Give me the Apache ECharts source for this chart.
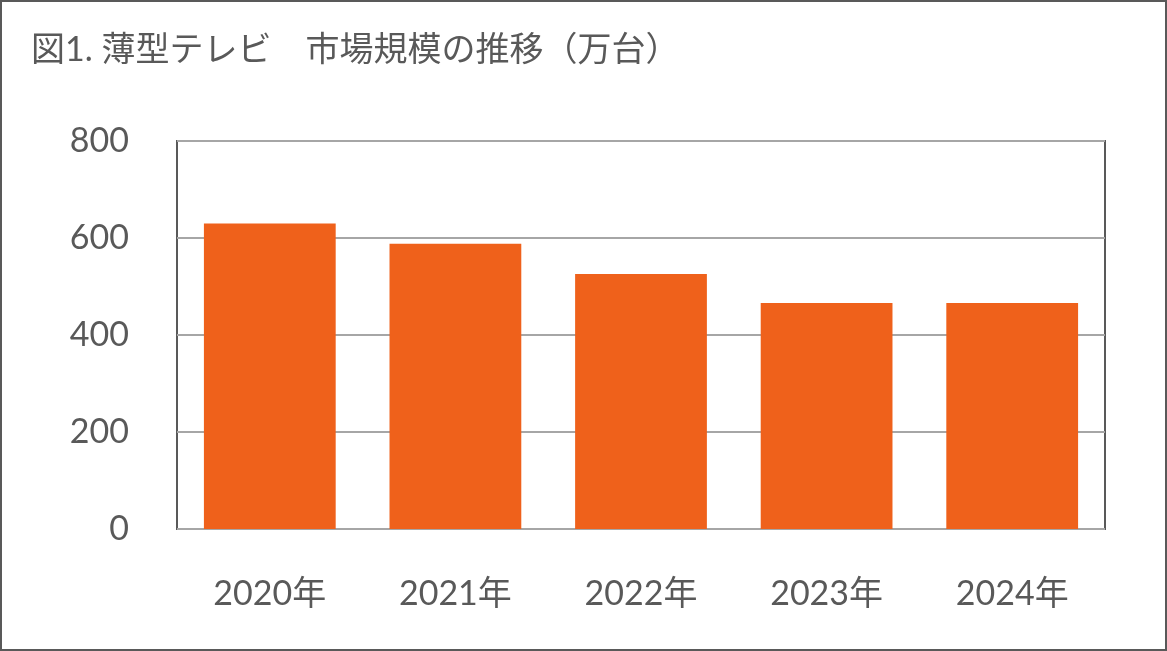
<!DOCTYPE html>
<html><head><meta charset="utf-8">
<script src="https://cdn.jsdelivr.net/npm/echarts@6/dist/echarts.min.js"></script>
<style>html,body{margin:0;padding:0;background:#fff}#c{width:1167px;height:651px;box-sizing:border-box;border:2px solid #595959}</style>
</head><body><div id="c"></div>
<script>
const categories = ['2020年','2021年','2022年','2023年','2024年'];
const values = [630, 588, 526, 466, 466];
const yTicks = [0, 200, 400, 600, 800];
const chart = echarts.init(document.getElementById('c'));
const font = "Lato, 'Noto Sans CJK JP', sans-serif";
chart.setOption({
  animation: false,
  title: {text: '図1. 薄型テレビ　市場規模の推移（万台）', left: 24, top: 26,
    textStyle: {fontSize: 34, fontWeight: 'normal', color: '#595959', fontFamily: font}},
  grid: {left: 175, right: 60, top: 139, bottom: 120, show: true, borderColor: '#595959', borderWidth: 2},
  xAxis: {type: 'category', data: categories,
    axisLine: {show: false}, axisTick: {show: false},
    axisLabel: {fontSize: 34, color: '#595959', margin: 48, fontFamily: font}},
  yAxis: {type: 'value', min: yTicks[0], max: yTicks[yTicks.length-1], interval: 200,
    axisLine: {show: false}, axisTick: {show: false},
    splitLine: {lineStyle: {color: '#a6a6a6', width: 2}},
    axisLabel: {fontSize: 34, color: '#595959', margin: 48, fontFamily: font}},
  series: [{type: 'bar', data: values, barWidth: '71%', itemStyle: {color: '#ef611b'}}]
});
</script></body></html>
